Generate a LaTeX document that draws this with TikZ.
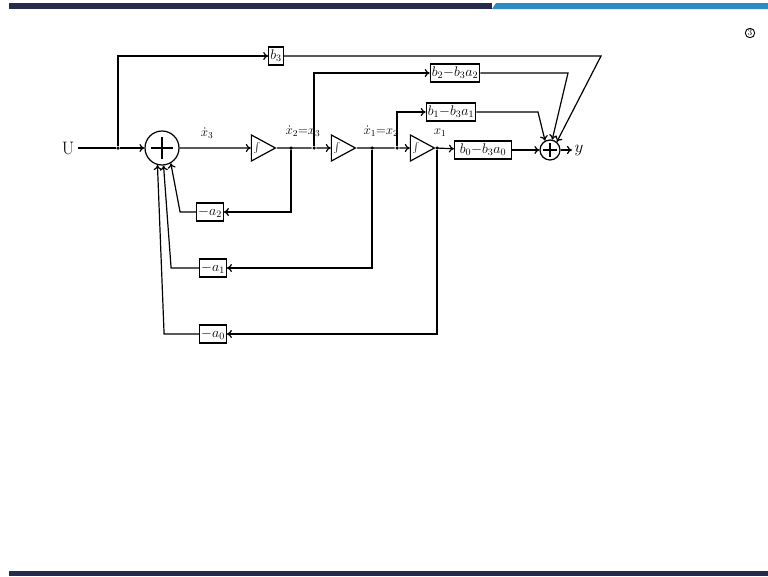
\RequirePackage{fix-cm}
\documentclass[tikz,border=0pt]{standalone}
\usepackage{fontspec}
\usetikzlibrary{shapes.geometric,arrows.meta}
\definecolor{barnavy}{HTML}{262A4F}
\definecolor{barblue}{HTML}{2E8BC6}
\begin{document}
\begin{tikzpicture}[x=1pt,y=-1pt,line width=1.2pt,
  every node/.style={font=\fontsize{14}{15}\selectfont},
  blk/.style={draw,rectangle,inner sep=1.5pt,minimum height=18},
  lbl/.style={inner sep=1pt,font=\fontsize{13}{14}\selectfont},
  integ/.style={draw,isosceles triangle,isosceles triangle stretches,minimum width=26,minimum height=24,inner sep=0pt,font=\small},
  sumbig/.style={draw,circle,minimum size=34,inner sep=0pt,
    path picture={\draw (path picture bounding box.center) +(-11pt,0pt) -- +(11pt,0pt)
      (path picture bounding box.center) +(0pt,-11pt) -- +(0pt,11pt);}},
  sumsmall/.style={draw,circle,minimum size=20,inner sep=0pt,
    path picture={\draw (path picture bounding box.center) +(-7pt,0pt) -- +(7pt,0pt)
      (path picture bounding box.center) +(0pt,-7pt) -- +(0pt,7pt);}},
  sig/.style={-{To[length=5pt,width=8pt]}},
  jdot/.style={circle,fill,inner sep=0pt,minimum size=3.5}]
% page and bars
\fill[white] (0,0) rectangle (768,576);
\fill[barnavy] (9,3) rectangle (492,9);
\fill[barblue] (492,9) -- (496,3) -- (768,3) -- (768,9) -- cycle;
\fill[barnavy] (9,571) rectangle (768,576);
\node[draw,circle,inner sep=0.6pt,line width=0.9pt,font=\small] (pg) at (750,33) {3};
% summing junctions and integrators
\node (u) at (68,148) {\fontsize{18}{18}\selectfont U};
\node[sumbig] (s1) at (162,148) {};
\node[integ] (i1) at (257,148) {$\int$};
\node[integ] (i2) at (337,148) {$\int$};
\node[integ] (i3) at (416,148) {$\int$};
\node[sumsmall] (s2) at (550,150) {};
% gain blocks
\node[blk] (b3) at (276,56) {$b_3$};
\node[blk] (b2) at (455,73) {$b_2{-}b_3a_2$};
\node[blk] (b1) at (451,112) {$b_1{-}b_3a_1$};
\node[blk,minimum width=57] (b0) at (483,150) {$b_0{-}b_3a_0$};
\node[blk] (a2) at (210,212) {$-a_2$};
\node[blk] (a1) at (213,268) {$-a_1$};
\node[blk] (a0) at (213,334) {$-a_0$};
% branch points
\node[jdot] (j0) at (118,148) {};
\node[jdot] (ja) at (291,148) {};
\node[jdot] (jb) at (314,148) {};
\node[jdot] (jc) at (372,148) {};
\node[jdot] (jd) at (397,148) {};
\node[jdot] (je) at (437,148) {};
% signal labels
\node[lbl] (lx3) at (207,133) {$\dot{x}_3$};
\node[lbl] (lx2) at (303,131) {$\dot{x}_2{=}x_3$};
\node[lbl] (lx1) at (381,131) {$\dot{x}_1{=}x_2$};
\node[lbl] (lx0) at (440,133) {$x_1$};
% forward path
\draw (u) -- (j0);
\draw[sig] (j0) -- (s1);
\draw[sig] (s1) -- (i1);
\draw (i1.east) -- (jb);
\draw[sig] (jb) -- (i2);
\draw (i2.east) -- (jd);
\draw[sig] (jd) -- (i3);
\draw[sig] (i3.east) -- (b0);
\draw[sig] (b0) -- (s2);
\draw[sig] (s2) -- ++(22,0) node[right,inner sep=2pt] (yout) {\fontsize{17}{17}\selectfont$y$};
% feed-forward paths
\draw[sig] (j0) |- (b3);
\draw[sig] (jb) |- (b2);
\draw[sig] (jd) |- (b1);
\draw[sig] (b3) -- (601,56) -- (s2.50);
\draw[sig] (b2) -- (568,73) -- (s2.78);
\draw[sig] (b1) -- (538,112) -- (s2.118);
% feedback paths
\draw[sig] (ja) |- (a2);
\draw[sig] (jc) |- (a1);
\draw[sig] (je) |- (a0);
\foreach \blkname/\dx/\ang in {a2/-16/-60,a1/-28/-85,a0/-35/-105}
  \draw[sig] (\blkname.west) -- ++(\dx,0) -- (s1.\ang);
\end{tikzpicture}
\end{document}
